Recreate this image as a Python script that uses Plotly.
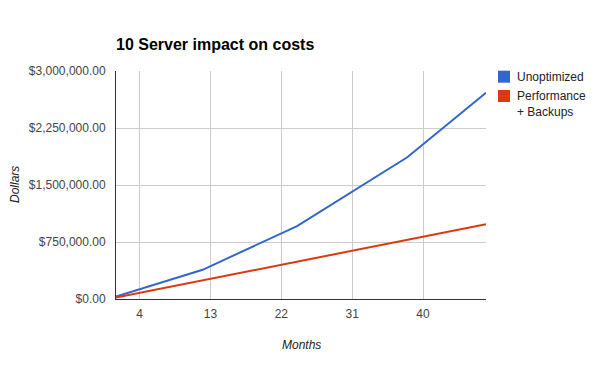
import plotly.graph_objects as go

months_unopt = [1, 12, 24, 38, 48]
cost_unopt = [32000, 384000, 960000, 1865000, 2714000]
months_perf = [1, 48]
cost_perf = [20500, 983000]
series_names = ["Unoptimized", "Performance<br>+ Backups"]
colors = ["#3366cc", "#dc3912"]
x_ticks = [4, 13, 22, 31, 40]
y_ticks = [0, 750000, 1500000, 2250000, 3000000]

FONT = "Arial, 'Liberation Sans', sans-serif"
L, R, T, B = 116, 486, 71, 299
PW, PH = R - L, B - T


def px(x):
    return (x - L) / PW


def py(y):
    return (B - y) / PH


fig = go.Figure()
fig.add_trace(go.Scatter(x=months_unopt, y=cost_unopt, mode="lines", name=series_names[0],
                         line=dict(color=colors[0], width=2), showlegend=False))
fig.add_trace(go.Scatter(x=months_perf, y=cost_perf, mode="lines", name=series_names[1],
                         line=dict(color=colors[1], width=2), showlegend=False))

# manual legend (squares + labels)
shapes = []
annotations = []
legend_rows = [(70.7, 82.7, 515, 76.7), (90.0, 102.0, 515, 103.7)]
for (y0, y1, tx, ty), name, c in zip(legend_rows, series_names, colors):
    shapes.append(dict(type="rect", xref="paper", yref="paper",
                       x0=px(498), x1=px(510), y0=py(y1), y1=py(y0),
                       fillcolor=c, line=dict(width=0)))
    annotations.append(dict(text=name, x=px(tx), y=py(ty), xref="paper", yref="paper",
                            xanchor="left", yanchor="middle", align="left",
                            showarrow=False, font=dict(size=12, color="#222")))

annotations += [
    dict(text="<i>Dollars</i>", x=px(15), xref="paper", y=py(185), yref="paper",
         xanchor="center", yanchor="middle",
         showarrow=False, textangle=-90, font=dict(size=12, color="#222")),
    dict(text="<i>Months</i>", x=px(301), xref="paper", y=py(345), yref="paper",
         xanchor="center", yanchor="middle",
         showarrow=False, font=dict(size=12, color="#222")),
]

fig.update_layout(
    width=600, height=371,
    margin=dict(l=L, r=600 - R, t=T, b=371 - B, autoexpand=False),
    paper_bgcolor="white", plot_bgcolor="white",
    font=dict(family=FONT, size=12, color="#444"),
    title=dict(text="<b>10 Server impact on costs</b>", x=L/600, xanchor="left",
               y=1-44.5/371, yanchor="middle", font=dict(size=16, color="#000")),
    showlegend=False,
    shapes=shapes,
    annotations=annotations,
    xaxis=dict(range=[1, 48], tickvals=x_ticks, showgrid=True, gridcolor="#cccccc",
               showline=True, linecolor="#333", linewidth=1, zeroline=False,
               ticks="outside", ticklen=4, tickcolor="rgba(0,0,0,0)", automargin=False),
    yaxis=dict(range=[0, 3000000], tickvals=y_ticks, tickformat="$,.2f",
               showgrid=True, gridcolor="#cccccc", showline=True, linecolor="#333",
               linewidth=1, zeroline=False, ticks="outside", ticklen=7,
               tickcolor="rgba(0,0,0,0)", automargin=False),
)
fig.write_html("out.html", config={"displayModeBar": False},
               post_script="document.body.style.margin='0';")
